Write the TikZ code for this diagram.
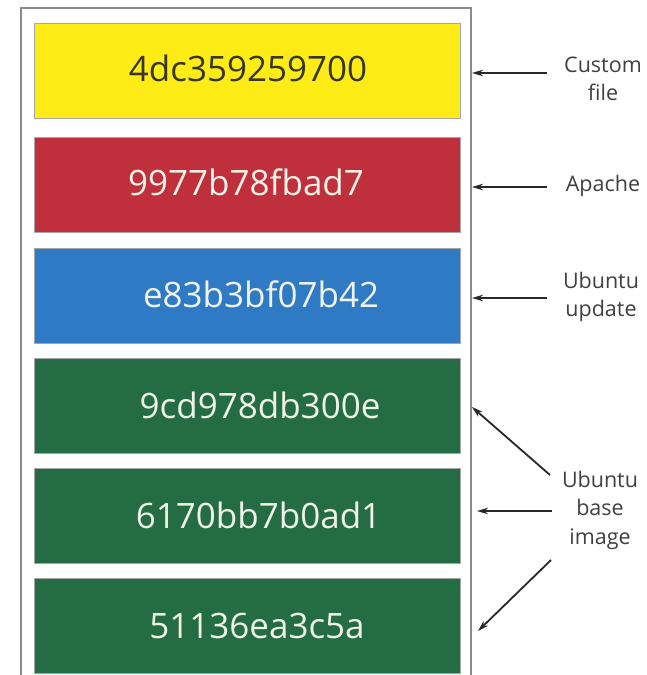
\documentclass[tikz,border=0pt]{standalone}
\usepackage{fontspec}
\setmainfont{Open Sans}
\usetikzlibrary{arrows.meta}
\definecolor{cYellow}{RGB}{255,236,22}
\definecolor{cRed}{RGB}{192,48,60}
\definecolor{cBlue}{RGB}{46,122,196}
\definecolor{cGreen}{RGB}{36,108,68}
\definecolor{cFrame}{RGB}{140,140,140}
\definecolor{cArrow}{RGB}{40,40,40}
\definecolor{cLight}{RGB}{240,242,232}
\definecolor{cDark}{RGB}{55,55,40}
\tikzset{
  layer/.style={draw=black!35, line width=0.8pt, minimum width=426pt, minimum height=95pt, inner sep=0pt, anchor=north west},
  hash/.style={font=\fontsize{35}{38}\selectfont, inner sep=0pt},
  lbl/.style={font=\fontsize{21.5}{28.5}\selectfont, align=center, text=black!75, inner sep=0pt},
  arr/.style={draw=cArrow, line width=1.8pt, -{Stealth[length=11pt,width=6.5pt]}}
}
\begin{document}
\begin{tikzpicture}[x=1pt,y=-1pt]
\useasboundingbox (0,0) rectangle (646,675);
\fill[white] (0,0) rectangle (646,675);
% frame
\draw[cFrame, line width=1.4pt] (21,680) -- (21,8) -- (471,8) -- (471,680);
% layers
\node[layer, fill=cYellow] (l1) at (34,23) {};
\node[layer, fill=cRed] (l2) at (34,137) {};
\node[layer, fill=cBlue] (l3) at (34,248) {};
\node[layer, fill=cGreen] (l4) at (34,358) {};
\node[layer, fill=cGreen] (l5) at (34,468) {};
\node[layer, fill=cGreen] (l6) at (34,578) {};
% hashes
\node[hash, text=cDark] (t1) at (248,68) {4dc359259700};
\node[hash, text=cLight] (t2) at (246,182) {9977b78fbad7};
\node[hash, text=cLight] (t3) at (261,294) {e83b3bf07b42};
\node[hash, text=cLight] (t4) at (260,405) {9cd978db300e};
\node[hash, text=cLight] (t5) at (258.5,515) {6170bb7b0ad1};
\node[hash, text=cLight] (t6) at (257,626) {51136ea3c5a};
% labels
\node[lbl] (c1) at (603,79) {Custom\\file};
\node[lbl] (c2) at (603,186) {Apache};
\node[lbl] (c3) at (601,297) {Ubuntu\\update};
\node[lbl] (c4) at (600,510) {Ubuntu\\base\\image};
% arrow anchors
\coordinate (a1s) at (547,73);  \coordinate (a1e) at (472,73);
\coordinate (a2s) at (547,187); \coordinate (a2e) at (472,187);
\coordinate (a3s) at (547,298); \coordinate (a3e) at (472,298);
\coordinate (a4s) at (550,475); \coordinate (a4e) at (472,407);
\coordinate (a5s) at (552,511); \coordinate (a5e) at (477,511);
\coordinate (a6s) at (551,560); \coordinate (a6e) at (478,631);
\draw[arr] (a1s) -- (a1e);
\draw[arr] (a2s) -- (a2e);
\draw[arr] (a3s) -- (a3e);
\draw[arr] (a4s) -- (a4e);
\draw[arr] (a5s) -- (a5e);
\draw[arr] (a6s) -- (a6e);
\end{tikzpicture}
\end{document}
